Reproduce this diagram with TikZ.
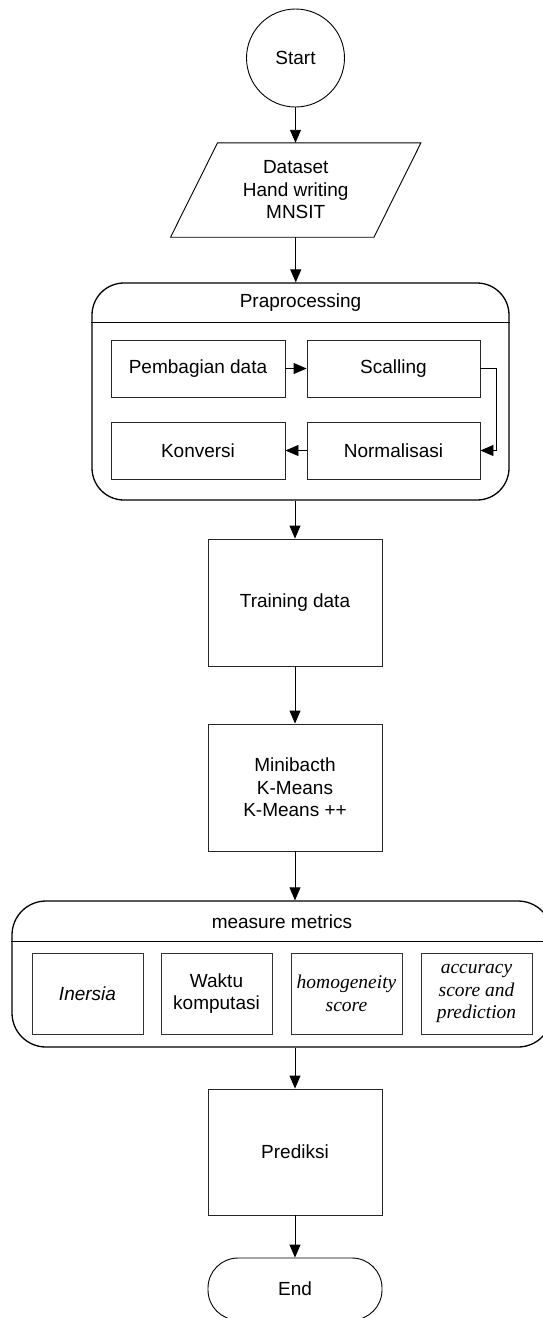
\documentclass[tikz,border=0pt]{standalone}
\usepackage{fontspec}
\setmainfont{Liberation Sans}
\newfontfamily\tnr{Liberation Serif}
\usetikzlibrary{arrows.meta,calc}
\tikzset{
  txt/.style={font=\fontsize{19}{22.5}\selectfont, align=center, inner sep=0pt},
  serifit/.style={font=\fontsize{19.5}{22.5}\selectfont\tnr\itshape},
  sansit/.style={font=\fontsize{19}{22.5}\selectfont\itshape},
  boxnode/.style={txt, draw=black!85, line width=0.9pt, rectangle, minimum width=174pt, minimum height=127pt},
  smallbox/.style={txt, draw=black!85, line width=0.9pt, rectangle, minimum width=174pt, minimum height=57pt},
  metricbox/.style={txt, draw=black!80, line width=0.9pt, rectangle, minimum width=111pt, minimum height=81pt},
  groupbox/.style={draw, line width=1.3pt, rectangle, rounded corners=32pt, inner sep=0pt},
  arr/.style={line width=0.9pt, -{Triangle[length=13pt,width=11pt]}},
}
\begin{document}
\begin{tikzpicture}[x=1pt,y=-1pt]
\useasboundingbox (0,0) rectangle (542,1318);
\fill[white] (0,0) rectangle (542,1318);

% Start
\node[txt, draw, line width=0.9pt, circle, minimum size=98pt] (start) at (295.5,58) {Start};

% Dataset (parallelogram)
\node[txt, minimum width=203pt, minimum height=94pt] (data) at (295.75,190) {Dataset\\Hand writing\\MNSIT};
\draw[line width=0.9pt] ($(data.north west)+(23.5,0)$) -- ($(data.north east)+(23.5,0)$)
  -- ($(data.south east)+(-23.5,0)$) -- ($(data.south west)+(-23.5,0)$) -- cycle;

% Praprocessing group
\node[groupbox, minimum width=417pt, minimum height=217pt] (prep) at (300.5,391.5) {};
\draw[line width=1.3pt] ($(prep.north west)+(0,40)$) -- ($(prep.north east)+(0,40)$);
\node[txt] (prephead) at (300.5,303) {Praprocessing};
\node[smallbox] (pb) at (198,368.5) {Pembagian data};
\node[smallbox, minimum width=173pt] (sc) at (393.5,368.5) {Scalling};
\node[smallbox] (kv) at (198,450.5) {Konversi};
\node[smallbox, minimum width=173pt] (nm) at (393.5,450.5) {Normalisasi};

% Training / Minibatch
\node[boxnode] (train) at (295,602.5) {Training data};
\node[boxnode] (mini) at (295,787.5) {Minibacth\\K-Means\\K-Means ++};

% measure metrics group
\node[groupbox, rounded corners=34pt, minimum width=540pt, minimum height=146pt] (meas) at (282,974) {};
\draw[line width=1.3pt] ($(meas.north west)+(0,41)$) -- ($(meas.north east)+(0,41)$);
\node[txt] (meashead) at (282,922) {measure metrics};
\node[metricbox, sansit] (m1) at (87.5,993.5) {Inersia};
\node[metricbox] (m2) at (216.5,993.5) {Waktu\\komputasi};
\node[metricbox, serifit] (m3) at (346.5,993.5) {homogeneity\\score};
\node[metricbox, serifit] (m4) at (476.5,993.5) {accuracy\\score and\\prediction};

% Prediksi / End
\node[boxnode, minimum height=126pt] (pred) at (295,1152) {Prediksi};
\node[txt, draw, line width=0.9pt, rectangle, rounded corners=30pt, minimum width=174pt, minimum height=62pt] (end) at (295,1289) {End};

% connectors
\draw[arr] (start.south) -- (start.south |- data.north);
\draw[arr] (data.south) -- (data.south |- prep.north);
\draw[arr] (prep.south -| train.north) -- (train.north);
\draw[arr] (train.south) -- (mini.north);
\draw[arr] (mini.south) -- (mini.south |- meas.north);
\draw[arr] (meas.south -| pred.north) -- (pred.north);
\draw[arr] (pred.south) -- (end.north);
\draw[arr] (pb.east) -- (sc.west);
\draw[arr] (sc.east) -- ++(16,0) |- (nm.east);
\draw[arr] (nm.west) -- (kv.east);
\end{tikzpicture}
\end{document}
